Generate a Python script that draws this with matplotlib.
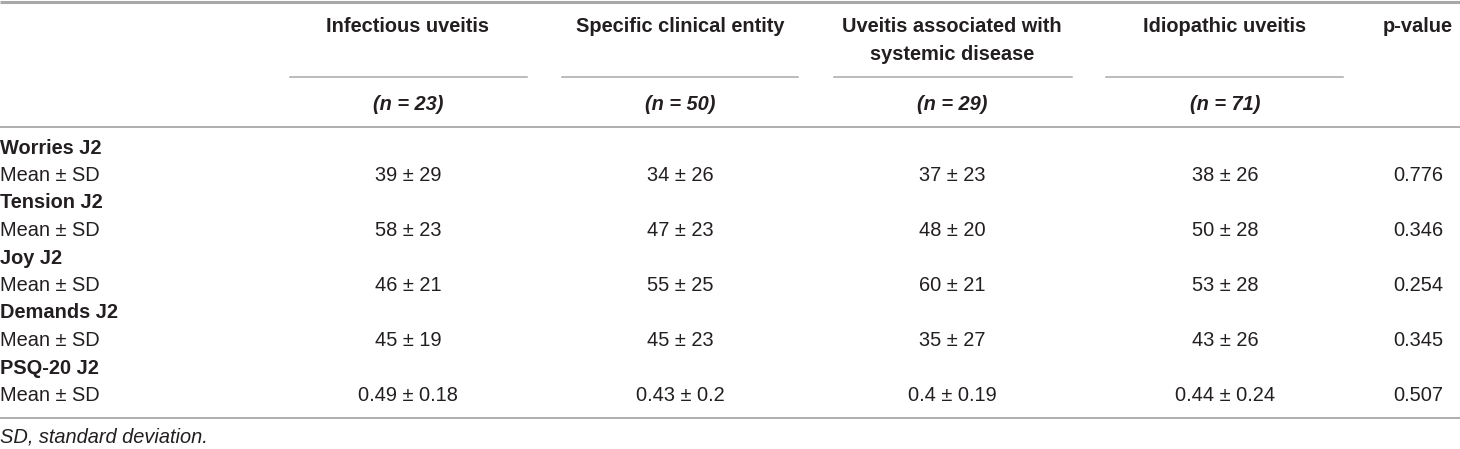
import matplotlib
matplotlib.use("Agg")
import matplotlib.pyplot as plt

# -----------------------------------------------------------------------------
# Table data
# -----------------------------------------------------------------------------
groups = ["Infectious uveitis", "Specific clinical entity",
          "Uveitis associated with\nsystemic disease", "Idiopathic uveitis"]
n_values = [23, 50, 29, 71]
measures = ["Worries J2", "Tension J2", "Joy J2", "Demands J2", "PSQ-20 J2"]
means = [
    [39, 34, 37, 38],
    [58, 47, 48, 50],
    [46, 55, 60, 53],
    [45, 45, 35, 43],
    [0.49, 0.43, 0.4, 0.44],
]
sds = [
    [29, 26, 23, 26],
    [23, 23, 20, 28],
    [21, 25, 21, 28],
    [19, 23, 27, 26],
    [0.18, 0.2, 0.19, 0.24],
]
p_values = ["0.776", "0.346", "0.254", "0.345", "0.507"]
footnote = "SD, standard deviation."

# -----------------------------------------------------------------------------
# Layout (pixel coordinates)
# -----------------------------------------------------------------------------
W, H = 1460, 449
col_centers = [408, 680, 952, 1225]
col_spans = [(290, 527), (562, 798), (834, 1072), (1106, 1343)]
p_center = 1418
row0 = 148
row_step = 27.5

text_col = "#231f20"
line_col = "#a8a8a8"
fs = 14.4

plt.rcParams["font.family"] = ["Liberation Sans", "DejaVu Sans"]

fig = plt.figure(figsize=(W / 100, H / 100), dpi=100)
ax = fig.add_axes([0, 0, 1, 1])
ax.set_xlim(0, W)
ax.set_ylim(H, 0)
ax.axis("off")

# rules
ax.plot([0, W], [1.5, 1.5], color=line_col, lw=2.2, solid_capstyle="butt")
ax.plot([0, W], [127, 127], color=line_col, lw=1.3)
ax.plot([0, W], [418, 418], color=line_col, lw=1.3)
for x0, x1 in col_spans:
    ax.plot([x0, x1], [76.5, 76.5], color=line_col, lw=1.1)

# header
for x, g, n in zip(col_centers, groups, n_values):
    for k, line in enumerate(g.split("\n")):
        ax.text(x, 27 + 27 * k, line, ha="center", va="center",
                fontsize=fs, fontweight="bold", color=text_col)
    ax.text(x, 104, f"(n = {n})", ha="center", va="center",
            fontsize=fs, fontweight="bold", fontstyle="italic", color=text_col)
ax.text(p_center, 27, "p-value", ha="center", va="center",
        fontsize=fs, fontweight="bold", color=text_col)

# body
for i, name in enumerate(measures):
    y_head = row0 + 2 * i * row_step
    y_val = y_head + row_step
    ax.text(0, y_head, name, ha="left", va="center",
            fontsize=fs, fontweight="bold", color=text_col)
    ax.text(0, y_val, "Mean \u00b1 SD", ha="left", va="center",
            fontsize=fs, color=text_col)
    for x, m, s in zip(col_centers, means[i], sds[i]):
        ax.text(x, y_val, f"{m:g} \u00b1 {s:g}", ha="center", va="center",
                fontsize=fs, color=text_col)
    ax.text(p_center, y_val, p_values[i], ha="center", va="center",
            fontsize=fs, color=text_col)

ax.text(0, 437, footnote, ha="left", va="center",
        fontsize=fs, fontstyle="italic", color=text_col)

fig.savefig("out.png", dpi=100)
